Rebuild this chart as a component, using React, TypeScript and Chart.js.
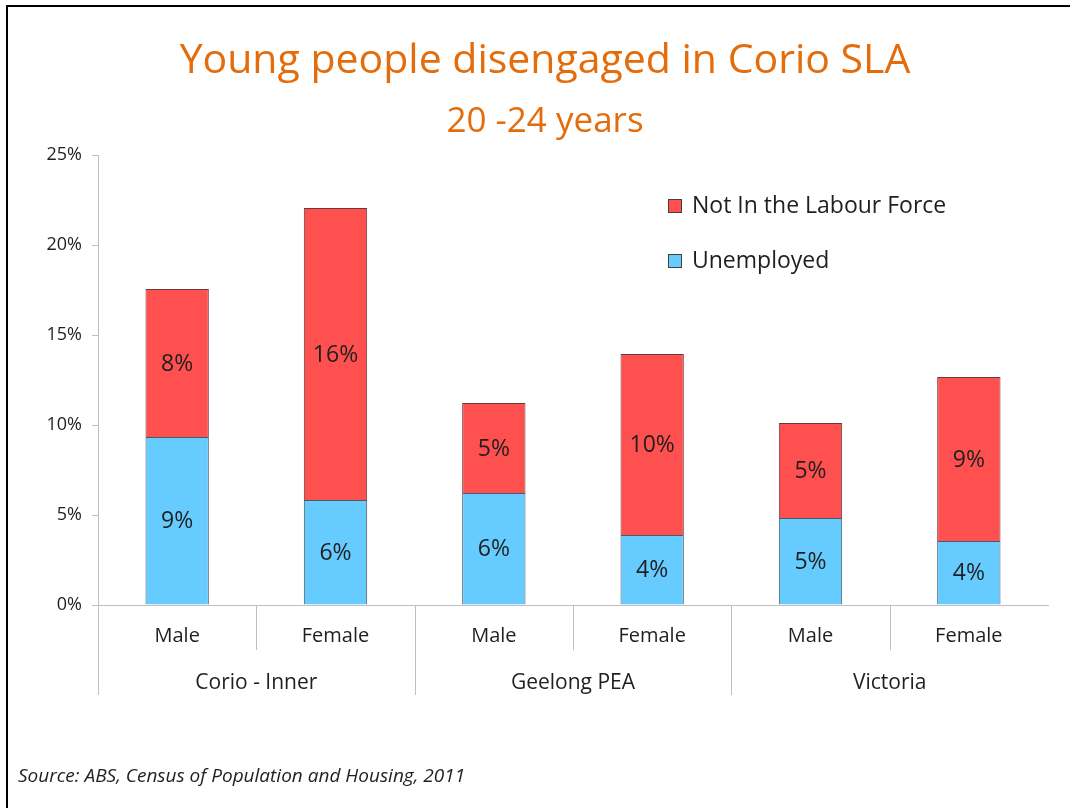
import React, { useEffect, useRef } from "react";
import { Chart, registerables } from "chart.js";

Chart.register(...registerables);

// ---------- data ----------
const categories = ["Male", "Female", "Male", "Female", "Male", "Female"];
const groups = ["Corio - Inner", "Geelong PEA", "Victoria"];
const unemployed = [9.33, 5.83, 6.22, 3.89, 4.83, 3.55];
const notInLabourForce = [8.22, 16.22, 5.0, 10.05, 5.28, 9.12];
const seriesNames = ["Unemployed", "Not In the Labour Force"];
const yTickValues = [0, 5, 10, 15, 20, 25];
const titleText = "Young people disengaged in Corio SLA";
const subtitleText = "20 -24 years";
const sourceText = "Source: ABS, Census of Population and Housing, 2011";

// ---------- style ----------
const FONT = '"Open Sans", "Noto Sans", sans-serif';
const ORANGE = "#E46C0A";
const RED = "#FF5050";
const BLUE = "#66CCFF";
const AXIS = "#BFBFBF";
const TEXT = "#1F1F1F";

const decor = {
  id: "decor",
  beforeDraw(chart: any) {
    const { ctx } = chart;
    ctx.save();
    ctx.fillStyle = "#fff";
    ctx.fillRect(0, 0, chart.width, chart.height);
    ctx.restore();
  },
  afterDraw(chart: any) {
    const { ctx, chartArea, scales } = chart;
    const x = scales.x;
    ctx.save();
    // frame (left and top edges)
    ctx.fillStyle = "#000";
    ctx.fillRect(6, 5, chart.width - 6, 2);
    ctx.fillRect(6, 5, 2, chart.height - 5);

    // titles
    ctx.fillStyle = ORANGE;
    ctx.textAlign = "center";
    ctx.textBaseline = "middle";
    ctx.font = `41px ${FONT}`;
    ctx.fillText(titleText, 545, 61);
    ctx.font = `35px ${FONT}`;
    ctx.fillText(subtitleText, 545, 122);

    // data labels
    ctx.fillStyle = TEXT;
    ctx.font = `23px ${FONT}`;
    chart.data.datasets.forEach((ds: any, di: number) => {
      const meta = chart.getDatasetMeta(di);
      meta.data.forEach((bar: any, i: number) => {
        const p = bar.getProps(["x", "y", "base"], true);
        ctx.fillText(Math.round(ds.data[i]) + "%", p.x, (p.y + p.base) / 2 + 1);
      });
    });

    // category separators
    ctx.strokeStyle = AXIS;
    ctx.lineWidth = 1;
    const bottom = chartArea.bottom;
    const n = categories.length;
    const boundary = (i: number) =>
      i <= 0
        ? chartArea.left
        : i >= n
        ? chartArea.right
        : (x.getPixelForValue(i - 1) + x.getPixelForValue(i)) / 2;
    for (let i = 0; i < n; i++) {
      const bx = Math.round(boundary(i)) + 0.5;
      const len = i % 2 === 0 ? 90 : 45;
      ctx.beginPath();
      ctx.moveTo(bx, bottom);
      ctx.lineTo(bx, bottom + len);
      ctx.stroke();
    }

    // group labels
    ctx.fillStyle = TEXT;
    ctx.font = `21px ${FONT}`;
    groups.forEach((g, gi) => {
      const cx = (x.getPixelForValue(gi * 2) + x.getPixelForValue(gi * 2 + 1)) / 2;
      ctx.fillText(g, cx, bottom + 78);
    });

    // legend
    const lx = chartArea.left + 570;
    const items = [
      { name: seriesNames[1], color: RED, y: chartArea.top + 51 },
      { name: seriesNames[0], color: BLUE, y: chartArea.top + 106 },
    ];
    ctx.textAlign = "left";
    ctx.font = `23px ${FONT}`;
    items.forEach((it) => {
      ctx.fillStyle = it.color;
      ctx.fillRect(lx, it.y - 7, 14, 14);
      ctx.strokeStyle = "#404040";
      ctx.strokeRect(lx + 0.5, it.y - 6.5, 13, 13);
      ctx.fillStyle = TEXT;
      ctx.fillText(it.name, lx + 24, it.y);
    });

    // source
    ctx.font = `italic 19px ${FONT}`;
    ctx.fillStyle = TEXT;
    ctx.fillText(sourceText, 18, 777);
    ctx.restore();
  },
};

export default function App() {
  const ref = useRef<HTMLCanvasElement>(null);
  useEffect(() => {
    if (!ref.current) return;
    const chart = new Chart(ref.current, {
      type: "bar",
      data: {
        labels: categories,
        datasets: [
          {
            label: seriesNames[0],
            data: unemployed,
            backgroundColor: BLUE,
            borderColor: "#4a5a66",
            borderWidth: 1,
            categoryPercentage: 1,
            barPercentage: 0.4,
          },
          {
            label: seriesNames[1],
            data: notInLabourForce,
            backgroundColor: RED,
            borderColor: "#6a3a3a",
            borderWidth: 1,
            categoryPercentage: 1,
            barPercentage: 0.4,
          },
        ],
      },
      options: {
        responsive: false,
        animation: false,
        layout: { padding: { top: 155, right: 22, left: 0, bottom: 0 } },
        plugins: {
          legend: { display: false },
          title: { display: false },
          tooltip: { enabled: false },
        },
        scales: {
          x: {
            stacked: true,
            grid: { display: true, drawOnChartArea: false, drawTicks: false },
            border: { display: true, color: AXIS, width: 1 },
            ticks: { font: { family: FONT, size: 20 }, color: TEXT, padding: 19 },
            afterFit(s: any) {
              s.height = 203;
            },
          },
          y: {
            stacked: true,
            min: 0,
            max: 25,
            afterBuildTicks(s: any) {
              s.ticks = yTickValues.map((v) => ({ value: v }));
            },
            ticks: {
              font: { family: FONT, size: 18 },
              color: TEXT,
              padding: 10,
              callback: (v: any) => v + "%",
            },
            grid: { drawOnChartArea: false, drawTicks: true, tickLength: 6, color: AXIS },
            border: { display: true, color: AXIS, width: 1 },
            afterFit(s: any) {
              s.width = 98;
            },
          },
        },
      },
      plugins: [decor],
    });
    return () => chart.destroy();
  }, []);
  return (
    <div style={{ position: "fixed", left: 0, top: 0, width: 1070, height: 808, background: "#fff" }}>
      <canvas ref={ref} width={1070} height={808} style={{ width: 1070, height: 808 }} />
    </div>
  );
}
